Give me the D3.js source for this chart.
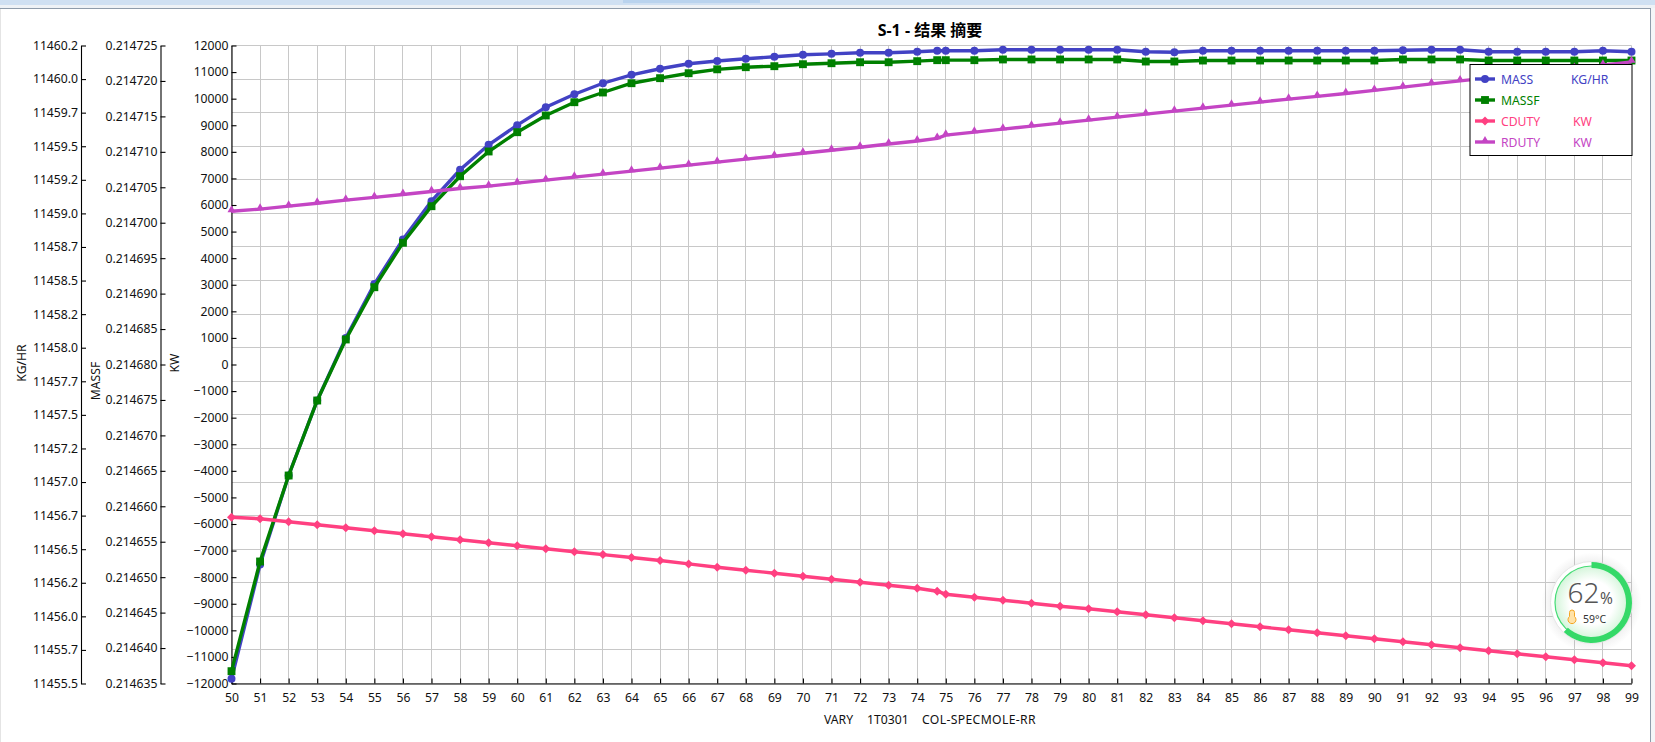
<!DOCTYPE html>
<html><head><meta charset="utf-8">
<script src="https://cdn.jsdelivr.net/npm/d3@7"></script>
<style>
html,body{margin:0;padding:0;background:#fff;overflow:hidden}
svg{display:block}
text{font-family:"Noto Sans","Noto Sans CJK SC",sans-serif;fill:#111}
</style></head><body>
<svg id="c" width="1655" height="742"></svg>
<script>
const xValues = [50,51,52,53,54,55,56,57,58,59,60,61,62,63,64,65,66,67,68,69,70,71,72,73,74,74.7,75,76,77,78,79,80,81,82,83,84,85,86,87,88,89,90,91,92,93,94,95,96,97,98,99];
const massValues = [11455.535,11456.386,11457.049,11457.607,11458.072,11458.474,11458.806,11459.091,11459.325,11459.511,11459.657,11459.791,11459.887,11459.969,11460.032,11460.077,11460.114,11460.135,11460.151,11460.166,11460.181,11460.188,11460.196,11460.196,11460.203,11460.211,11460.211,11460.211,11460.218,11460.218,11460.218,11460.218,11460.218,11460.203,11460.200,11460.211,11460.211,11460.211,11460.211,11460.211,11460.211,11460.211,11460.215,11460.218,11460.218,11460.203,11460.203,11460.203,11460.203,11460.211,11460.203];
const massfValues = [0.21463674,0.21465221,0.21466434,0.21467492,0.21468353,0.21469090,0.21469717,0.21470233,0.21470656,0.21471005,0.21471277,0.21471513,0.21471700,0.21471837,0.21471968,0.21472039,0.21472109,0.21472164,0.21472194,0.21472208,0.21472236,0.21472250,0.21472264,0.21472264,0.21472279,0.21472293,0.21472293,0.21472293,0.21472303,0.21472303,0.21472303,0.21472303,0.21472303,0.21472274,0.21472274,0.21472288,0.21472288,0.21472288,0.21472288,0.21472288,0.21472288,0.21472288,0.21472303,0.21472303,0.21472303,0.21472288,0.21472288,0.21472288,0.21472288,0.21472288,0.21472288];
const cdutyValues = [-5744,-5804,-5917,-6030,-6143,-6256,-6369,-6481,-6594,-6707,-6820,-6933,-7042,-7151,-7260,-7373,-7501,-7625,-7738,-7851,-7964,-8076,-8189,-8302,-8415,-8528,-8641,-8754,-8866,-8979,-9092,-9190,-9303,-9416,-9528,-9641,-9754,-9867,-9980,-10093,-10206,-10318,-10431,-10544,-10657,-10770,-10883,-10996,-11108,-11221,-11334];
const rdutyValues = [5767,5845,5958,6067,6184,6285,6394,6507,6620,6710,6823,6936,7049,7162,7275,7387,7500,7613,7726,7835,7948,8061,8173,8294,8407,8508,8629,8742,8854,8967,9080,9193,9306,9419,9532,9644,9757,9870,9983,10088,10194,10314,10434,10558,10671,10784,10897,11010,11134,11262,11386];

const xTicks = [50,51,52,53,54,55,56,57,58,59,60,61,62,63,64,65,66,67,68,69,70,71,72,73,74,75,76,77,78,79,80,81,82,83,84,85,86,87,88,89,90,91,92,93,94,95,96,97,98,99];
const massTicks = [11455.5,11455.75,11456,11456.25,11456.5,11456.75,11457,11457.25,11457.5,11457.75,11458,11458.25,11458.5,11458.75,11459,11459.25,11459.5,11459.75,11460,11460.25];
const massTickLabels = ["11455.5","11455.7","11456.0","11456.2","11456.5","11456.7","11457.0","11457.2","11457.5","11457.7","11458.0","11458.2","11458.5","11458.7","11459.0","11459.2","11459.5","11459.7","11460.0","11460.2"];
const massfTickLabels = ["0.214635","0.214640","0.214645","0.214650","0.214655","0.214660","0.214665","0.214670","0.214675","0.214680","0.214685","0.214690","0.214695","0.214700","0.214705","0.214710","0.214715","0.214720","0.214725"];
const kwTicks = [-12000,-11000,-10000,-9000,-8000,-7000,-6000,-5000,-4000,-3000,-2000,-1000,0,1000,2000,3000,4000,5000,6000,7000,8000,9000,10000,11000,12000];

const colMass="#4242c4", colMassf="#008000", colC="#ff4081", colR="#c445c4";
const fs="12.2px";

const L=231.5,R=1631.5,T=45.5,B=683.5;
const svg=d3.select("#c");
const x=d3.scaleLinear().domain([50,99]).range([L,R]);
const yMass=d3.scaleLinear().domain([11455.5,11460.25]).range([B,T]);
const yMassf=d3.scaleLinear().domain([0.214635,0.214725]).range([B,T]);
const yKw=d3.scaleLinear().domain([-12000,12000]).range([B,T]);

// window chrome
svg.append("rect").attr("x",0).attr("y",0).attr("width",1655).attr("height",5).attr("fill","#cfe0f2");
svg.append("rect").attr("x",623).attr("y",0).attr("width",137).attr("height",3).attr("fill","#b9d3ee");
svg.append("rect").attr("x",0).attr("y",5).attr("width",1655).attr("height",3).attr("fill","#eef2f6");
svg.append("rect").attr("x",0).attr("y",8).attr("width",1651).attr("height",1).attr("fill","#8e9cab");
svg.append("rect").attr("x",1650).attr("y",8).attr("width",1).attr("height",734).attr("fill","#8e9cab");
svg.append("rect").attr("x",1651).attr("y",8).attr("width",4).attr("height",734).attr("fill","#f4f6f8");
svg.append("rect").attr("x",0).attr("y",9).attr("width",1).attr("height",733).attr("fill","#e4e4e4");

// grid
const grid=svg.append("g").attr("stroke","#c8c8c8").attr("stroke-width",1);
grid.selectAll(".h").data(massTicks).join("line").attr("x1",L).attr("x2",R)
  .attr("y1",d=>Math.round(yMass(d)-.5)+.5).attr("y2",d=>Math.round(yMass(d)-.5)+.5);
grid.selectAll(".v").data(xTicks).join("line").attr("y1",T).attr("y2",B)
  .attr("x1",d=>Math.round(x(d)-.5)+.5).attr("x2",d=>Math.round(x(d)-.5)+.5);

function styleAxis(g){
  g.selectAll("text").style("font-size",fs).attr("fill","#111");
  g.selectAll("path,line").attr("stroke","#000").attr("stroke-width",1.1);
}
const axMass=d3.axisLeft(yMass).tickValues(massTicks).tickFormat((d,i)=>massTickLabels[i]).tickSizeInner(-5).tickSizeOuter(0).tickPadding(3);
svg.append("g").attr("transform","translate(81,0)").call(axMass).call(styleAxis);
const axMassf=d3.axisLeft(yMassf).tickValues(massfTickLabels.map(Number)).tickFormat((d,i)=>massfTickLabels[i]).tickSizeInner(-5).tickSizeOuter(0).tickPadding(3);
svg.append("g").attr("transform","translate(160.5,0)").call(axMassf).call(styleAxis);
const axKw=d3.axisLeft(yKw).tickValues(kwTicks).tickFormat(d3.format("d")).tickSizeInner(-5).tickSizeOuter(0).tickPadding(3);
svg.append("g").attr("transform",`translate(${L},0)`).call(axKw).call(styleAxis);
const axX=d3.axisBottom(x).tickValues(xTicks).tickFormat(d3.format("d")).tickSizeInner(-5).tickSizeOuter(0).tickPadding(10);
svg.append("g").attr("transform",`translate(0,${B})`).call(axX).call(styleAxis);

// series
const series=[
 {name:"MASS",unit:"KG/HR",ux:1571,vals:massValues,y:yMass,col:colMass,sym:d3.symbolCircle,size:50},
 {name:"MASSF",unit:"",ux:1571,vals:massfValues,y:yMassf,col:colMassf,sym:d3.symbolSquare,size:62},
 {name:"CDUTY",unit:"KW",ux:1573,vals:cdutyValues,y:yKw,col:colC,sym:d3.symbolDiamond2,size:52},
 {name:"RDUTY",unit:"KW",ux:1573,vals:rdutyValues,y:yKw,col:colR,sym:d3.symbolTriangle,size:28}
];
series.forEach(s=>{
  const pts=xValues.map((v,i)=>[v,s.vals[i]]);
  const line=d3.line().x(d=>x(d[0])).y(d=>s.y(d[1]));
  const g=svg.append("g");
  g.append("path").attr("d",line(pts)).attr("fill","none").attr("stroke",s.col).attr("stroke-width",3.4);
  g.selectAll("path.m").data(pts).join("path").attr("class","m")
    .attr("d",d3.symbol(s.sym,s.size)).attr("fill",s.col)
    .attr("transform",d=>`translate(${x(d[0])},${s.y(d[1])-(s.sym===d3.symbolTriangle?1.3:0)})`);
});

// title and axis labels
svg.append("text").attr("x",930).attr("y",36).attr("text-anchor","middle")
  .style("font-size","16px").style("font-weight","700").style("fill","#000").text("S-1 - 结果 摘要");
const xTitleParts=["VARY","1T0301","COL-SPECMOLE-RR"], xTitleX=[824,867,922];
xTitleParts.forEach((t,i)=>{
  svg.append("text").attr("x",xTitleX[i]).attr("y",724).style("font-size",fs).style("letter-spacing",i===2?"0.35px":"0").text(t);
});
[["KG/HR",26,363],["MASSF",100,381],["KW",179,363]].forEach(a=>{
  svg.append("text").attr("transform",`translate(${a[1]},${a[2]}) rotate(-90)`).attr("text-anchor","middle")
    .style("font-size",fs).text(a[0]);
});

// legend
const lg=svg.append("g");
lg.append("rect").attr("x",1470).attr("y",64.5).attr("width",162).attr("height",91).attr("fill","#fff").attr("stroke","#000").attr("stroke-width",1);
const rowY=[79,100,121,142];
series.forEach((s,i)=>{
  lg.append("line").attr("x1",1475).attr("x2",1495).attr("y1",rowY[i]).attr("y2",rowY[i]).attr("stroke",s.col).attr("stroke-width",3.4);
  lg.append("path").attr("d",d3.symbol(s.sym,s.size)).attr("fill",s.col).attr("transform",`translate(1485,${rowY[i]-(s.sym===d3.symbolTriangle?1.3:0)})`);
  lg.append("text").attr("x",1501).attr("y",rowY[i]+4.5).style("font-size",fs).style("fill",s.col).text(s.name);
  if(s.unit) lg.append("text").attr("x",s.ux).attr("y",rowY[i]+4.5).style("font-size",fs).style("fill",s.col).text(s.unit);
});

// overlay gauge
const gaugeValue=62, gaugeLabel="62", gaugeTemp="59°C";
const defs=svg.append("defs");
const rg=defs.append("radialGradient").attr("id","gg");
rg.append("stop").attr("offset","0.6").attr("stop-color","#ffffff");
rg.append("stop").attr("offset","1").attr("stop-color","#d4f5da");
const sg=defs.append("radialGradient").attr("id","sh");
sg.append("stop").attr("offset","0.8").attr("stop-color","#888").attr("stop-opacity",0.12);
sg.append("stop").attr("offset","1").attr("stop-color","#888").attr("stop-opacity",0);
const gw=svg.append("g").attr("transform","translate(1591.5,602.5)");
gw.append("circle").attr("r",50).attr("fill","url(#sh)");
gw.append("circle").attr("r",41).attr("fill","#fff").attr("stroke","#e6e6e6").attr("stroke-width",1);
gw.append("circle").attr("r",36.5).attr("fill","url(#gg)").attr("stroke","#45dc75").attr("stroke-width",1.2);
const angle=d3.scaleLinear().domain([0,100]).range([0,2*Math.PI]);
gw.append("path").attr("d",d3.arc().innerRadius(34.5).outerRadius(40.5).startAngle(0).endAngle(angle(gaugeValue))()).attr("fill","#35d968");
gw.append("text").attr("x",-24).attr("y",0).style("font-size","28px").style("font-weight","300").style("fill","#555").text(gaugeLabel);
gw.append("text").attr("x",8.5).attr("y",1.5).style("font-size","15.5px").style("fill","#555").text("%");
gw.append("text").attr("x",-8.5).attr("y",20).style("font-size","10.5px").style("fill","#333").text(gaugeTemp);
gw.append("path").attr("d","M-22,10 a2.5,2.5 0 0 1 5,0 v4 a4,4 0 1 1 -5,0 z").attr("fill","#ffe2a8").attr("stroke","#f5a623").attr("stroke-width",1);
</script>
</body></html>
